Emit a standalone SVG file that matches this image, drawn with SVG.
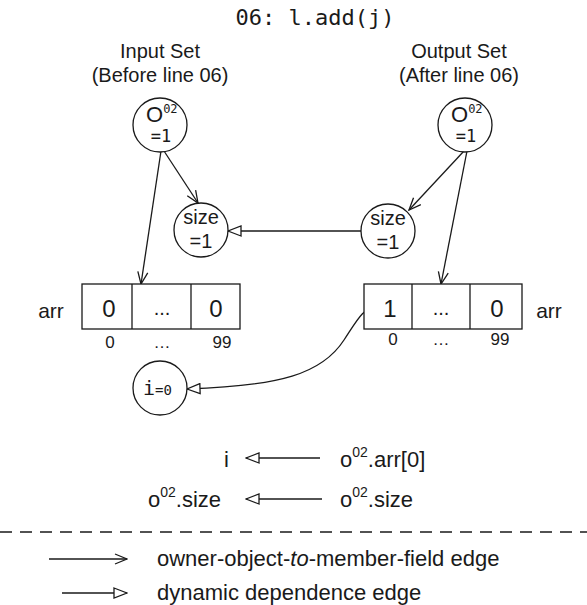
<svg xmlns="http://www.w3.org/2000/svg" width="587" height="605" viewBox="0 0 587 605">
<style>
.sans{font-family:"Liberation Sans",Arial,sans-serif;fill:#1a1a1a}
.mono{font-family:"DejaVu Sans Mono",monospace;fill:#1a1a1a}
.node{fill:#fff;stroke:#1a1a1a;stroke-width:1.3}
.edge{fill:none;stroke:#1a1a1a;stroke-width:1.3}
.mid{text-anchor:middle}
</style>
<defs>
<marker id="open" viewBox="0 0 14 12" refX="13" refY="6" markerWidth="14" markerHeight="12" markerUnits="userSpaceOnUse" orient="auto">
<path d="M1,1 L13,6 L1,11" fill="none" stroke="#1a1a1a" stroke-width="1.3"/>
</marker>
<marker id="tri" viewBox="0 0 15 12" refX="14" refY="6" markerWidth="15" markerHeight="12" markerUnits="userSpaceOnUse" orient="auto">
<path d="M1,1 L14,6 L1,11 Z" fill="#fff" stroke="#1a1a1a" stroke-width="1.3"/>
</marker>
</defs>

<text class="mono mid" x="315" y="25" font-size="22">06: l.add(j)</text>
<text class="sans mid" x="160" y="58" font-size="20">Input Set</text>
<text class="sans mid" x="160" y="82" font-size="20">(Before line 06)</text>
<text class="sans mid" x="459" y="58" font-size="20">Output Set</text>
<text class="sans mid" x="459" y="82" font-size="20">(After line 06)</text>

<g id="edges">
<line class="edge" x1="161" y1="151" x2="141" y2="284" marker-end="url(#open)"/>
<line class="edge" x1="164" y1="151" x2="198" y2="203" marker-end="url(#open)"/>
<line class="edge" x1="464" y1="151" x2="409" y2="210" marker-end="url(#open)"/>
<line class="edge" x1="467" y1="151" x2="441" y2="284" marker-end="url(#open)"/>
<line class="edge" x1="361" y1="231" x2="228" y2="231" marker-end="url(#tri)"/>
<path class="edge" d="M376,308 C364,306 356,322 344,340 C322,374 280,386 187,389" marker-end="url(#tri)"/>
</g>

<g id="in_o02">
<circle class="node" cx="160" cy="125" r="27"/>
<text class="sans" x="146" y="122" font-size="22">O<tspan class="mono" font-size="12" dy="-9">02</tspan></text>
<text class="mono mid" x="161" y="142" font-size="17">=1</text>
</g>
<g id="in_size">
<circle class="node" cx="201" cy="230" r="27"/>
<text class="sans mid" x="201" y="224" font-size="20">size</text>
<text class="sans mid" x="201" y="248" font-size="20">=1</text>
</g>
<g id="out_o02">
<circle class="node" cx="465" cy="125" r="27"/>
<text class="sans" x="451" y="122" font-size="22">O<tspan class="mono" font-size="12" dy="-9">02</tspan></text>
<text class="mono mid" x="466" y="142" font-size="17">=1</text>
</g>
<g id="out_size">
<circle class="node" cx="388" cy="231" r="27"/>
<text class="sans mid" x="388" y="225" font-size="20">size</text>
<text class="sans mid" x="388" y="249" font-size="20">=1</text>
</g>

<g id="in_arr">
<text class="sans mid" x="51" y="318" font-size="21">arr</text>
<rect class="node" x="82" y="284" width="158" height="45"/>
<line class="edge" x1="132" y1="284" x2="132" y2="329"/>
<line class="edge" x1="191" y1="284" x2="191" y2="329"/>
<text class="sans mid" x="109" y="317" font-size="24">0</text>
<text class="sans mid" x="162" y="315" font-size="20">...</text>
<text class="sans mid" x="216" y="317" font-size="24">0</text>
<text class="sans mid" x="110" y="348" font-size="17">0</text>
<text class="sans mid" x="162" y="348" font-size="17">…</text>
<text class="sans mid" x="222" y="348" font-size="17">99</text>
</g>

<g id="out_arr">
<rect class="node" x="364" y="284" width="158" height="45"/>
<line class="edge" x1="412" y1="284" x2="412" y2="329"/>
<line class="edge" x1="470" y1="284" x2="470" y2="329"/>
<text class="sans mid" x="390" y="317" font-size="24">1</text>
<text class="sans mid" x="441" y="315" font-size="20">...</text>
<text class="sans mid" x="497" y="317" font-size="24">0</text>
<text class="sans mid" x="393" y="345" font-size="17">0</text>
<text class="sans mid" x="441" y="345" font-size="17">…</text>
<text class="sans mid" x="500" y="345" font-size="17">99</text>
<text class="sans mid" x="549" y="318" font-size="21">arr</text>
</g>

<g id="i_node">
<circle class="node" cx="160" cy="388" r="27"/>
<text class="mono" x="143" y="395" font-size="20">i<tspan font-size="14">=0</tspan></text>
</g>

<g id="summary">
<text class="sans" x="224" y="467" font-size="22">i</text>
<line class="edge" x1="320" y1="458" x2="246" y2="458" marker-end="url(#tri)"/>
<text class="sans" x="340" y="467" font-size="22">o<tspan font-size="14" dy="-10">02</tspan><tspan dy="10">.arr[0]</tspan></text>
<text class="sans" x="148" y="507" font-size="22">o<tspan font-size="14" dy="-10">02</tspan><tspan dy="10">.size</tspan></text>
<line class="edge" x1="322" y1="499" x2="246" y2="499" marker-end="url(#tri)"/>
<text class="sans" x="340" y="507" font-size="22">o<tspan font-size="14" dy="-10">02</tspan><tspan dy="10">.size</tspan></text>
</g>

<line x1="0" y1="532" x2="587" y2="532" stroke="#1a1a1a" stroke-width="1.3" stroke-dasharray="12 8"/>

<g id="legend">
<line class="edge" x1="49" y1="559" x2="127" y2="559" marker-end="url(#open)"/>
<text class="sans" x="157" y="566" font-size="22">owner-object-<tspan font-style="italic">to</tspan>-member-field edge</text>
<line class="edge" x1="62" y1="593" x2="127" y2="593" marker-end="url(#tri)"/>
<text class="sans" x="157" y="600" font-size="22">dynamic dependence edge</text>
</g>
</svg>
